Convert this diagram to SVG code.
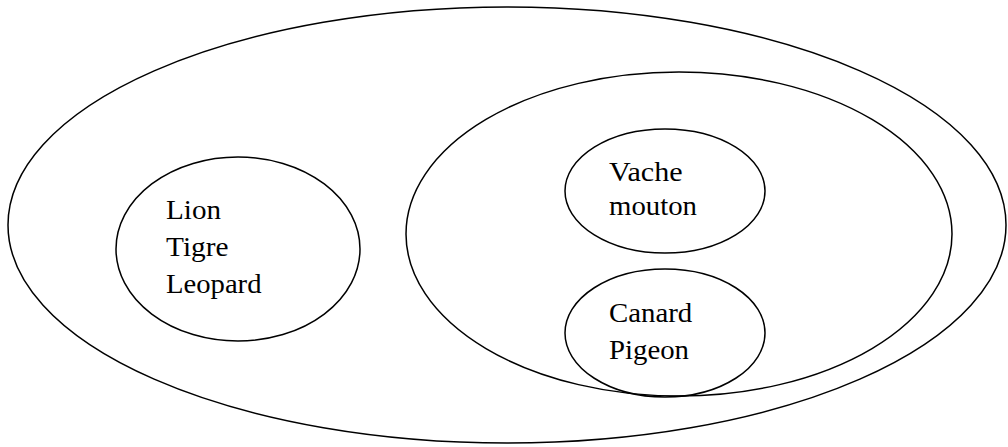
<svg xmlns="http://www.w3.org/2000/svg" width="1008" height="447" viewBox="0 0 1008 447">
<style>
.e{fill:none;stroke:#000;stroke-width:1.5}
</style>
<rect width="1008" height="447" fill="#fff"/>
<g id="outer"><ellipse class="e" cx="507" cy="225" rx="499" ry="218"/></g>
<g id="domestiques"><ellipse class="e" cx="679" cy="234" rx="273" ry="162"/></g>
<g id="sauvages" font-family="Liberation Serif" font-size="27" fill="#000">
<ellipse class="e" cx="238" cy="249" rx="122" ry="92"/>
<text x="166" y="219" textLength="55" lengthAdjust="spacingAndGlyphs">Lion</text>
<text x="166" y="256" textLength="62.5" lengthAdjust="spacingAndGlyphs">Tigre</text>
<text x="166" y="293" textLength="95.5" lengthAdjust="spacingAndGlyphs">Leopard</text>
</g>
<g id="mammiferes" font-family="Liberation Serif" font-size="27" fill="#000">
<ellipse class="e" cx="665" cy="191" rx="100" ry="62"/>
<text x="609" y="181" textLength="73.6" lengthAdjust="spacingAndGlyphs">Vache</text>
<text x="609" y="215" textLength="88" lengthAdjust="spacingAndGlyphs">mouton</text>
</g>
<g id="oiseaux" font-family="Liberation Serif" font-size="27" fill="#000">
<ellipse class="e" cx="665" cy="333" rx="100" ry="64"/>
<text x="609" y="322" textLength="83.2" lengthAdjust="spacingAndGlyphs">Canard</text>
<text x="609" y="359" textLength="80" lengthAdjust="spacingAndGlyphs">Pigeon</text>
</g>
<g id="connectors"/>
</svg>
